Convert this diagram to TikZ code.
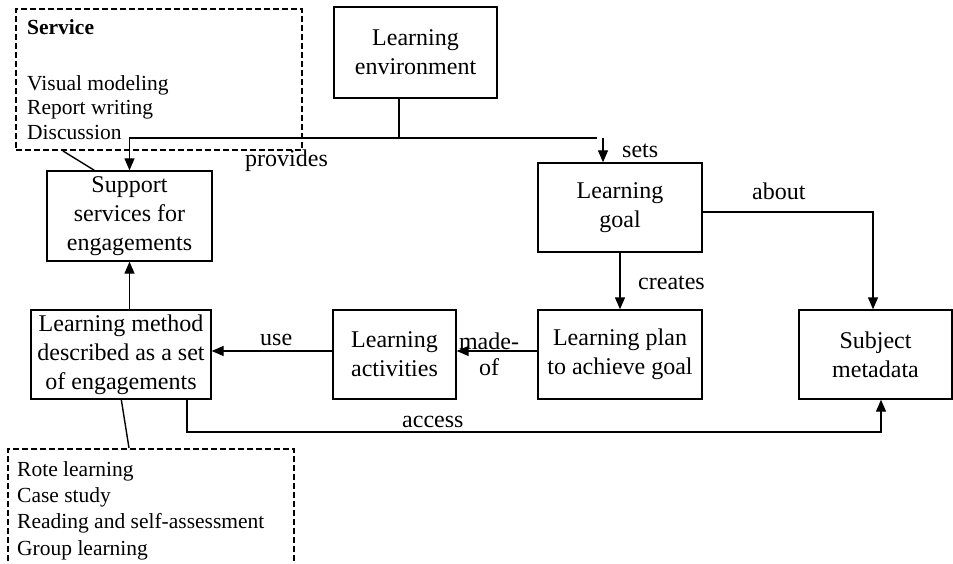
\documentclass[tikz,border=0pt]{standalone}
\usepackage{fontspec}
\setmainfont{Liberation Serif}
\usetikzlibrary{arrows.meta}

\newcommand\bxfont{\fontsize{24}{29}\selectfont}
\newcommand\lsfont{\fontsize{21.5}{24.5}\selectfont}

\tikzset{
  box/.style={draw, line width=1.4pt, inner sep=0pt, align=center, font=\bxfont},
  notebox/.style={draw, line width=2pt, dash pattern=on 6pt off 3pt, inner sep=0pt},
  conn/.style={line width=1.4pt},
  arr/.style={line width=1.4pt, -{Triangle[length=12pt,width=10pt]}},
  lbl/.style={inner sep=0pt, font=\bxfont, anchor=base west},
  item/.style={inner sep=0pt, font=\lsfont, align=left, anchor=north west},
}

\begin{document}
\begin{tikzpicture}[x=1pt, y=-1pt]
\path[use as bounding box, clip] (0,0) rectangle (953,564);
\fill[white] (0,0) rectangle (953,564);

% main boxes
\node[box, minimum width=163pt, minimum height=91pt] (env) at (415.5,52.5) {Learning\\environment};
\node[box, minimum width=165pt, minimum height=90pt] (support) at (129.5,216) {Support\\services for\\engagements};
\node[box, minimum width=164pt, minimum height=89pt] (goal) at (620,207.5) {Learning\\goal};
\node[box, minimum width=180pt, minimum height=89pt] (method) at (121,354.5) {Learning method\\described as a set\\of engagements};
\node[box, minimum width=123pt, minimum height=89pt] (activities) at (394.5,354.5) {Learning\\activities};
\node[box, minimum width=164pt, minimum height=89pt] (plan) at (620,354.5) {Learning plan\\to achieve goal};
\node[box, minimum width=153pt, minimum height=89pt] (subject) at (875.5,354.5) {Subject\\metadata};

% service note
\node[notebox, minimum width=286pt, minimum height=141pt, anchor=north west] (svc) at (15,8) {};
\node[inner sep=0pt, font=\lsfont\bfseries, anchor=base west] (svctitle) at (27,35) {Service};
\node[item] (svclist) at (27,75) {Visual modeling\\Report writing\\Discussion};

% engagement note
\node[notebox, minimum width=286pt, minimum height=132pt, anchor=north west] (eng) at (7,448) {};
\node[item, font=\fontsize{21.5}{26.3}\selectfont] (englist) at (17,461) {Rote learning\\Case study\\Reading and self-assessment\\Group learning};

% note attachments
\draw[conn] ([xshift=48pt]svc.south west) -- ([xshift=48pt]support.north west);
\draw[conn] ([xshift=91pt]method.south west) -- ([xshift=122pt]eng.north west);

% learning environment provides / sets
\coordinate (tap) at (399,138);
\coordinate (busend) at (597,138);
\coordinate (setsdrop) at (603,138);
\draw[conn] (env.south -| tap) -- (tap) -- (busend);
\draw[arr] (tap) -| (support.north);
\draw[arr] (setsdrop) -- (setsdrop |- goal.north);

% goal relations
\draw[arr] ([yshift=-4.5pt]goal.east) -| ([xshift=-2.5pt]subject.north);
\draw[arr] (goal.south) -- (plan.north);
\draw[arr] ([yshift=3.5pt]plan.west) -- ([yshift=3.5pt]activities.east);
\draw[arr] ([yshift=3.5pt]activities.west) -- ([yshift=3.5pt]method.east);
\draw[arr] (method.north -| support.south) -- (support.south);

% access
\coordinate (acc) at (187,432);
\draw[arr] (method.south -| acc) -- (acc) -| ([xshift=5.5pt]subject.south);

% connector labels
\node[lbl] (lprovides) at (245,167) {provides};
\node[lbl] (lsets) at (622,158) {sets};
\node[lbl] (labout) at (752,200) {about};
\node[lbl] (lcreates) at (638,289) {creates};
\node[lbl] (luse) at (260,345) {use};
\node[inner sep=0pt, font=\fontsize{24}{26}\selectfont, align=center, anchor=north] (lmadeof) at (489,333) {made-\\of};
\node[lbl] (laccess) at (402,427) {access};
\end{tikzpicture}
\end{document}
